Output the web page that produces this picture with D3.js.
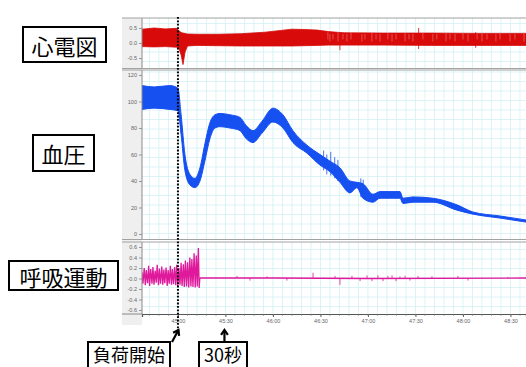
<!DOCTYPE html>
<html>
<head>
<meta charset="utf-8">
<script src="https://cdn.jsdelivr.net/npm/d3@7"></script>
<style>
  body { margin: 0; background: #fff; }
  svg { display: block; font-family: "Noto Sans CJK JP", "Noto Sans", sans-serif; }
</style>
</head>
<body>
<div id="chart"></div>
<script>
// time is seconds from 45:00 (load start)
const xTickTimes = [0, 30, 60, 90, 120, 150, 180, 210];
const xTickLabels = ["45:00", "45:30", "46:00", "46:30", "47:00", "47:30", "48:00", "48:30"];

const ecgTicks = [0.5, 0, -0.5];
const ecgTickLabels = ["0.5", "0.0", "-0.5"];
const bpTicks = [0, 20, 40, 60, 80, 100, 120];
const respTicks = [0.6, 0.4, 0.2, 0, -0.2, -0.4, -0.6];
const respTickLabels = ["0.6", "0.4", "0.2", "-0.0", "-0.2", "-0.4", "-0.6"];

// ECG envelope
const ecgTime = [-22.7, -15, -8, -1, 0.5, 2, 3.2, 4.5, 6, 12, 25, 40, 55, 65, 72, 80, 88, 95, 105, 130, 160, 190, 219.8];
const ecgHigh = [0.46, 0.5, 0.47, 0.49, 0.42, 0.35, 0.33, 0.32, 0.3, 0.29, 0.29, 0.31, 0.36, 0.42, 0.46, 0.45, 0.43, 0.38, 0.34, 0.33, 0.33, 0.32, 0.32];
const ecgLow = [-0.12, -0.13, -0.12, -0.14, -0.16, -0.4, -0.72, -0.3, -0.1, -0.08, -0.09, -0.1, -0.1, -0.1, -0.1, -0.09, -0.08, -0.07, -0.07, -0.07, -0.08, -0.08, -0.08];
// lighter beats in the ECG trace
const ecgStreaks = [94.7, 96, 97.9, 101.1, 104.2, 106.7, 109.3, 116.2, 118.1, 122.5, 125.1, 127.6, 132.6, 135.2, 137.7, 143.4, 145.9, 148.4, 154.7, 161, 163.5, 169.3, 171.8, 175, 180, 183.2, 188.9, 192, 195.2, 200.8, 203.4, 209.7, 212.8, 218.5];
const ecgSpikeTime = [102.3, 152, 188];
const ecgSpikeLow = [-0.24, -0.2, -0.16];
const ecgSpikeHigh = [0.3, 0.5, 0.36];

// blood pressure envelope
const bpTime = [-22.7, -15, -5, 0, 2, 4.4, 7.6, 10.7, 13.9, 17, 20.2, 23.4, 26.5, 32.8, 39.2, 43, 47.4, 53, 60, 66.3, 72.6, 81.5, 89.7, 96, 102.3, 108.6, 113, 116.8, 123.2, 127.6, 140.2, 142.1, 148.4, 161, 176.2, 186.3, 203.4, 219.8];
const bpHigh = [112, 111, 112, 110, 90, 60, 45, 42, 50, 68, 84, 90, 91, 90, 88, 82, 78, 85, 95, 90, 78, 67, 60, 55, 50, 40, 39, 38, 30, 32, 32, 27, 28, 27, 22, 16.6, 13.6, 10.6];
const bpLow = [94, 95, 94, 93, 75, 48, 37, 35, 40, 55, 72, 80, 81, 80, 78, 72, 69, 76, 84.5, 80, 69, 61, 52, 47, 39, 31, 35, 27, 24, 27, 27, 23, 24, 24, 18, 15, 12, 9];
const bpSpikeTime = [92, 94, 96.5, 99, 101, 115.5, 117];
const bpSpikeLow = [48, 45, 44, 42, 40, 28, 27];
const bpSpikeHigh = [63, 60, 62, 58, 56, 42, 41];

// respiration trace
const respTime = [-22.7, -22.1, -21.3, -20.6, -20.0, -19.2, -18.5, -17.9, -17.2, -16.4, -15.8, -15.1, -14.4, -13.7, -13.1, -12.3, -11.7, -11.0, -10.2, -9.6, -8.9, -8.3, -7.5, -6.8, -6.2, -5.5, -4.8, -4.1, -3.5, -2.8, -2.1, -1.4, -0.8, -0.1, 0.6, 1.3, 2.0, 2.6, 3.4, 4.0, 4.7, 5.4, 6.1, 6.8, 7.5, 8.2, 8.8, 9.5, 10.2, 10.9, 11.6, 12.2, 12.9, 13.4, 13.8, 14.2, 60, 120, 219.8];
const respValue = [0.12, -0.1, 0.2, -0.13, 0.16, -0.09, 0.24, -0.14, 0.18, -0.1, 0.22, -0.12, 0.15, -0.08, 0.26, -0.13, 0.19, -0.1, 0.23, -0.12, 0.17, -0.09, 0.21, -0.14, 0.16, -0.1, 0.24, -0.12, 0.18, -0.11, 0.22, -0.13, 0.26, -0.15, 0.2, -0.12, 0.3, -0.14, 0.27, -0.16, 0.34, -0.15, 0.31, -0.17, 0.4, -0.15, 0.37, -0.16, 0.48, -0.17, 0.44, -0.15, 0.58, -0.18, 0.0, 0.01, 0.01, 0.0, 0.01];
const respBlipTime = [37.3, 45.5, 56.2, 68.8, 85.3, 99.2, 102.3, 109.9, 115, 119.4, 122.5, 126.3, 129.5, 132.6, 135.2, 137.7, 140.2, 143.4, 146.5, 151.6, 160.4, 176.8, 183.2, 208.4];
const respBlipValue = [0.05, -0.04, 0.04, -0.04, 0.11, 0.05, -0.12, 0.05, -0.05, 0.06, -0.05, 0.06, -0.05, 0.05, 0.06, -0.05, 0.04, 0.05, -0.04, 0.05, 0.04, 0.05, -0.04, 0.03];

const width = 526, height = 367;
const left = 142, right = 526;

const x = d3.scaleLinear().domain([-22.7, 219.8]).range([left, right]);

const panels = [
  { id: "ecg", top: 18, bottom: 68, y: d3.scaleLinear().domain([-0.5, 0.5]).range([58, 28]), ticks: ecgTicks, labels: ecgTickLabels },
  { id: "bp", top: 70, bottom: 239.5, y: d3.scaleLinear().domain([0, 120]).range([234, 75]), ticks: bpTicks, labels: bpTicks.map(String) },
  { id: "resp", top: 242, bottom: 314, y: d3.scaleLinear().domain([-0.6, 0.6]).range([310, 247]), ticks: respTicks, labels: respTickLabels }
];

const svg = d3.select('#chart').append('svg')
  .attr('width', width)
  .attr('height', height);

const defs = svg.append('defs');

// left axis strip
svg.append('rect')
  .attr('x', 122).attr('y', 18)
  .attr('width', left - 122).attr('height', 307)
  .attr('fill', '#efefef');

panels.forEach(p => {
  defs.append('clipPath').attr('id', 'clip-' + p.id)
    .append('rect')
    .attr('x', left).attr('y', p.top)
    .attr('width', right - left).attr('height', p.bottom - p.top);

  const g = svg.append('g');
  g.append('rect')
    .attr('x', left).attr('y', p.top)
    .attr('width', right - left).attr('height', p.bottom - p.top)
    .attr('fill', '#fff');

  // grid, roughly square paper
  const grid = g.append('g').attr('clip-path', `url(#clip-${p.id})`)
    .attr('stroke', '#d3f0f5').attr('stroke-width', 0.8);
  d3.range(-18, 220, 6).forEach(t => {
    grid.append('line')
      .attr('x1', x(t)).attr('x2', x(t))
      .attr('y1', p.top).attr('y2', p.bottom);
  });
  const y0 = p.y(0);
  d3.range(y0 - 200, y0 + 200, 9.5).forEach(py => {
    grid.append('line')
      .attr('x1', left).attr('x2', right)
      .attr('y1', py).attr('y2', py);
  });

  // y axis
  const axis = svg.append('g')
    .attr('transform', `translate(${left},0)`)
    .call(d3.axisLeft(p.y).tickValues(p.ticks).tickSize(3).tickPadding(2)
      .tickFormat((d, i) => p.labels[i]));
  axis.select('.domain').remove();
  axis.selectAll('line').attr('stroke', '#999');
  axis.selectAll('text').attr('font-size', '5.5px').attr('fill', '#666')
    .attr('font-family', 'Liberation Sans, Arial, sans-serif');

  svg.append('line')
    .attr('x1', left).attr('x2', left)
    .attr('y1', p.top).attr('y2', p.bottom)
    .attr('stroke', '#8a8a8a').attr('stroke-width', 1);

  p.g = g.append('g').attr('clip-path', `url(#clip-${p.id})`);
});

// ECG
const ecg = panels[0];
ecg.g.append('path')
  .datum(ecgTime.map((t, i) => [t, ecgHigh[i], ecgLow[i]]))
  .attr('fill', '#d80a0a')
  .attr('stroke', '#d80a0a').attr('stroke-width', 0.8)
  .attr('d', d3.area().x(d => x(d[0])).y0(d => ecg.y(d[2])).y1(d => ecg.y(d[1])));

ecg.g.selectAll('.streak')
  .data(ecgStreaks)
  .enter().append('line')
  .attr('x1', d => x(d)).attr('x2', d => x(d))
  .attr('y1', (d, i) => ecg.y(i % 3 === 0 ? 0.36 : 0.3)).attr('y2', (d, i) => ecg.y(i % 2 ? 0.05 : 0.12))
  .attr('stroke', '#f2a0a0').attr('stroke-width', 0.6)
  .attr('opacity', 0.8);

ecg.g.selectAll('.spike')
  .data(ecgSpikeTime)
  .enter().append('line')
  .attr('x1', d => x(d)).attr('x2', d => x(d))
  .attr('y1', (d, i) => ecg.y(ecgSpikeLow[i]))
  .attr('y2', (d, i) => ecg.y(ecgSpikeHigh[i]))
  .attr('stroke', '#d80a0a').attr('stroke-width', 0.8);

// blood pressure
const bp = panels[1];
bp.g.append('path')
  .datum(bpTime.map((t, i) => [t, bpHigh[i], bpLow[i]]))
  .attr('fill', '#1650f0')
  .attr('stroke', '#1650f0').attr('stroke-width', 1)
  .attr('d', d3.area().curve(d3.curveMonotoneX)
    .x(d => x(d[0])).y0(d => bp.y(d[2])).y1(d => bp.y(d[1])));

bp.g.selectAll('.spike')
  .data(bpSpikeTime)
  .enter().append('line')
  .attr('x1', d => x(d)).attr('x2', d => x(d))
  .attr('y1', (d, i) => bp.y(bpSpikeLow[i]))
  .attr('y2', (d, i) => bp.y(bpSpikeHigh[i]))
  .attr('stroke', '#1650f0').attr('stroke-width', 0.8);

// respiration
const resp = panels[2];
resp.g.append('path')
  .datum(respTime.map((t, i) => [t, respValue[i]]))
  .attr('fill', 'none')
  .attr('stroke', '#e0189c').attr('stroke-width', 1.3)
  .attr('d', d3.line().x(d => x(d[0])).y(d => resp.y(d[1])));

resp.g.selectAll('.blip')
  .data(respBlipTime)
  .enter().append('line')
  .attr('x1', d => x(d)).attr('x2', d => x(d))
  .attr('y1', resp.y(0.01))
  .attr('y2', (d, i) => resp.y(respBlipValue[i]))
  .attr('stroke', '#e0189c').attr('stroke-width', 0.8);

// panel borders
[18, 68.5, 70, 239.5, 242].forEach(py => {
  svg.append('line')
    .attr('x1', 122).attr('x2', right)
    .attr('y1', py).attr('y2', py)
    .attr('stroke', '#a2a2a2').attr('stroke-width', 1.2);
});

// x axis
const xAxis = svg.append('g')
  .attr('transform', `translate(0,314)`)
  .call(d3.axisBottom(x).tickValues(xTickTimes).tickSize(3).tickPadding(2)
    .tickFormat((d, i) => xTickLabels[i]));
xAxis.select('.domain').attr('stroke', '#555').attr('stroke-width', 1.2);
xAxis.selectAll('line').attr('stroke', '#666');
xAxis.selectAll('text').attr('font-size', '5.5px').attr('fill', '#666')
  .attr('font-family', 'Liberation Sans, Arial, sans-serif');
svg.append('g').selectAll('line')
  .data(d3.range(-18, 220, 6))
  .enter().append('line')
  .attr('x1', d => x(d)).attr('x2', d => x(d))
  .attr('y1', 314).attr('y2', 316)
  .attr('stroke', '#777').attr('stroke-width', 0.6);
svg.append('line')
  .attr('x1', 122).attr('x2', left)
  .attr('y1', 314).attr('y2', 314)
  .attr('stroke', '#8a8a8a');

// load start marker
svg.append('line')
  .attr('x1', x(0)).attr('x2', x(0))
  .attr('y1', 17).attr('y2', 332)
  .attr('stroke', '#000').attr('stroke-width', 2)
  .attr('stroke-dasharray', '1.8,1.6');

function arrow(x1, y1, x2, y2) {
  const a = Math.atan2(y2 - y1, x2 - x1);
  const h = 6, w = 0.6;
  svg.append('line')
    .attr('x1', x1).attr('y1', y1).attr('x2', x2).attr('y2', y2)
    .attr('stroke', '#000').attr('stroke-width', 2.2);
  svg.append('path')
    .attr('d', `M${x2 - h * Math.cos(a - w)},${y2 - h * Math.sin(a - w)} L${x2},${y2} L${x2 - h * Math.cos(a + w)},${y2 - h * Math.sin(a + w)}`)
    .attr('fill', 'none').attr('stroke', '#000').attr('stroke-width', 2.2)
    .attr('stroke-linejoin', 'miter');
}
arrow(172, 342, x(0) + 0.5, 330);
arrow(x(30) - 1, 342, x(30) - 1, 330);

// labels
function label(text, x0, y0, x1, y1, size, cy) {
  svg.append('rect')
    .attr('x', x0).attr('y', y0)
    .attr('width', x1 - x0).attr('height', y1 - y0)
    .attr('fill', '#fff').attr('stroke', '#000').attr('stroke-width', 2);
  svg.append('text')
    .attr('x', (x0 + x1) / 2).attr('y', cy !== undefined ? cy : (y0 + y1) / 2)
    .attr('text-anchor', 'middle')
    .attr('dominant-baseline', 'central')
    .attr('font-size', size + 'px')
    .attr('fill', '#000')
    .text(text);
}
label('心電図', 23, 27, 106, 62, 22);
label('血圧', 33, 135, 94, 171, 22);
label('呼吸運動', 9, 261, 118, 290, 22);
label('負荷開始', 88, 342, 170, 370, 18, 354);
label('30秒', 199, 342, 247, 370, 18, 354);
</script>
</body>
</html>
